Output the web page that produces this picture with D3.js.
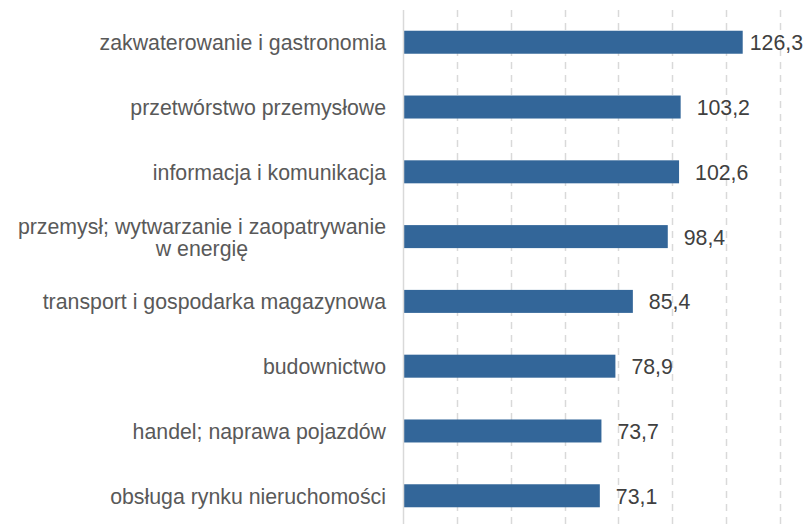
<!DOCTYPE html>
<html>
<head>
<meta charset="utf-8">
<script src="https://cdn.jsdelivr.net/npm/d3@7"></script>
<style>
	body { margin: 0; background: #fff; }
	text { font-family: "Liberation Sans", Arial, sans-serif; }
</style>
</head>
<body>
<script>
const categories = [
	['zakwaterowanie i gastronomia'],
	['przetwórstwo przemysłowe'],
	['informacja i komunikacja'],
	['przemysł; wytwarzanie i zaopatrywanie', 'w energię'],
	['transport i gospodarka magazynowa'],
	['budownictwo'],
	['handel; naprawa pojazdów'],
	['obsługa rynku nieruchomości']
]
const values = [126.3, 103.2, 102.6, 98.4, 85.4, 78.9, 73.7, 73.1]
const ticks = [0, 20, 40, 60, 80, 100, 120, 140]

const width = 803,
	height = 524,
	fontSize = '21.3px';

let svg = d3.select('body').append('svg')
	.attr('width', width)
	.attr('height', height)

let x = d3.scaleLinear()
	.domain([0, 140])
	.range([403.5, 779.5])

let y = d3.scaleBand()
	.domain(d3.range(values.length))
	.range([10, 528])
	.paddingInner(0.645)
	.paddingOuter(0.32)

// gridlines
svg.append('g')
	.selectAll('line')
	.data(ticks.slice(1))
	.enter().append('line')
	.attr('x1', d => Math.round(x(d)) + 0.5)
	.attr('x2', d => Math.round(x(d)) + 0.5)
	.attr('y1', 10)
	.attr('y2', height)
	.attr('stroke', '#d9d9d9')
	.attr('stroke-width', 1.5)
	.attr('stroke-dasharray', '7,6')

// bars
svg.append('g')
	.selectAll('rect')
	.data(values)
	.enter().append('rect')
	.attr('x', x(0))
	.attr('y', (d, i) => y(i))
	.attr('width', d => x(d) - x(0))
	.attr('height', y.bandwidth())
	.attr('fill', '#336699')

// axis line
svg.append('line')
	.attr('x1', x(0))
	.attr('x2', x(0))
	.attr('y1', 10)
	.attr('y2', height)
	.attr('stroke', '#d9d9d9')
	.attr('stroke-width', 1.5)

// value labels
svg.append('g')
	.selectAll('text')
	.data(values)
	.enter().append('text')
	.attr('y', (d, i) => y(i) + y.bandwidth() / 2)
	.attr('dy', '0.38em')
	.attr('font-size', fontSize)
	.attr('fill', '#404040')
	.text(d => d3.format('.1f')(d).replace('.', ','))
	.attr('x', function (d) {
		let w = this.getComputedTextLength()
		return Math.min(x(d) + 16, width - w)
	})

// category labels
let lineH = 22
let cat = svg.append('g')
	.selectAll('text')
	.data(categories)
	.enter().append('text')
	.attr('font-size', fontSize)
	.attr('fill', '#595959')
	.attr('y', (d, i) => y(i) + y.bandwidth() / 2 - (d.length - 1) * lineH / 2)

cat.each(function (lines) {
	let t = d3.select(this)
	if (lines.length === 1) {
		t.append('tspan').attr('x', 386).attr('dy', '0.38em')
			.attr('text-anchor', 'end').text(lines[0])
		return
	}
	// wrapped label: lines centred inside a right-aligned block
	let tmp = t.append('tspan').text(lines[0])
	let w = tmp.node().getComputedTextLength()
	tmp.remove()
	let cx = 386 - w / 2
	lines.forEach((s, k) => {
		t.append('tspan')
			.attr('x', cx)
			.attr('text-anchor', 'middle')
			.attr('dy', k === 0 ? '0.38em' : lineH)
			.text(s)
	})
})
</script>
</body>
</html>
